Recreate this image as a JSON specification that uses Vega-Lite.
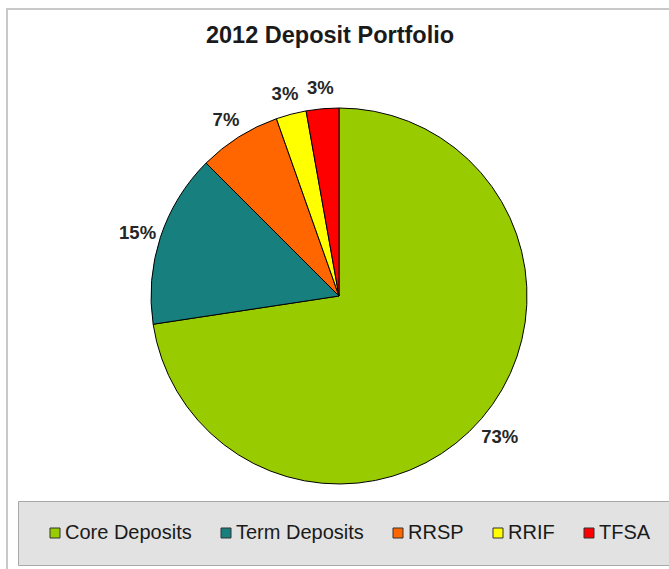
{
  "$schema": "https://vega.github.io/schema/vega-lite/v6.json",
  "description": "2012 deposit portfolio pie chart.",
  "width": 664,
  "height": 574,
  "autosize": "none",
  "padding": {"left": 7, "top": 9, "right": -2, "bottom": -14},
  "background": "white",
  "view": {"stroke": "#C8C8C8", "strokeWidth": 2},
  "title": {
    "text": "2012 Deposit Portfolio",
    "font": "Liberation Sans",
    "fontSize": 23.5,
    "fontWeight": "bold",
    "color": "#1a1a1a",
    "anchor": "middle",
    "offset": -38,
    "dx": -9
  },
  "data": {
    "values": [
      {"category": "Core Deposits", "share": 0.726, "rank": 1},
      {"category": "Term Deposits", "share": 0.149, "rank": 2},
      {"category": "RRSP", "share": 0.071, "rank": 3},
      {"category": "RRIF", "share": 0.026, "rank": 4},
      {"category": "TFSA", "share": 0.028, "rank": 5}
    ]
  },
  "encoding": {
    "theta": {"field": "share", "type": "quantitative", "stack": true},
    "order": {"field": "rank", "type": "quantitative"},
    "color": {
      "field": "category",
      "type": "nominal",
      "scale": {
        "domain": ["Core Deposits", "Term Deposits", "RRSP", "RRIF", "TFSA"],
        "range": ["#99CC00", "#17807E", "#FF6600", "#FFFF00", "#FF0000"]
      },
      "legend": {
        "orient": "none",
        "direction": "horizontal",
        "columns": 5,
        "legendX": 11,
        "legendY": 492,
        "title": " ",
        "titleOrient": "left",
        "titleFontSize": 1,
        "titlePadding": 5,
        "padding": 22,
        "fillColor": "#E2E2E2",
        "strokeColor": "#A8A8A8",
        "symbolType": "square",
        "symbolSize": 100,
        "symbolStrokeColor": "#333333",
        "symbolStrokeWidth": 1,
        "labelFont": "Liberation Sans",
        "labelFontSize": 20,
        "labelColor": "#1a1a1a",
        "labelOffset": 0,
        "columnPadding": 24
      }
    }
  },
  "layer": [
    {
      "mark": {"type": "arc", "outerRadius": 188, "stroke": "#000000", "strokeWidth": 1}
    },
    {
      "mark": {
        "type": "text",
        "radius": 212,
        "dy": 3,
        "font": "Liberation Sans",
        "fontSize": 18.5,
        "fontWeight": "bold"
      },
      "encoding": {
        "text": {"field": "share", "type": "quantitative", "format": ".0%"},
        "color": {"value": "#262626"}
      }
    }
  ]
}
